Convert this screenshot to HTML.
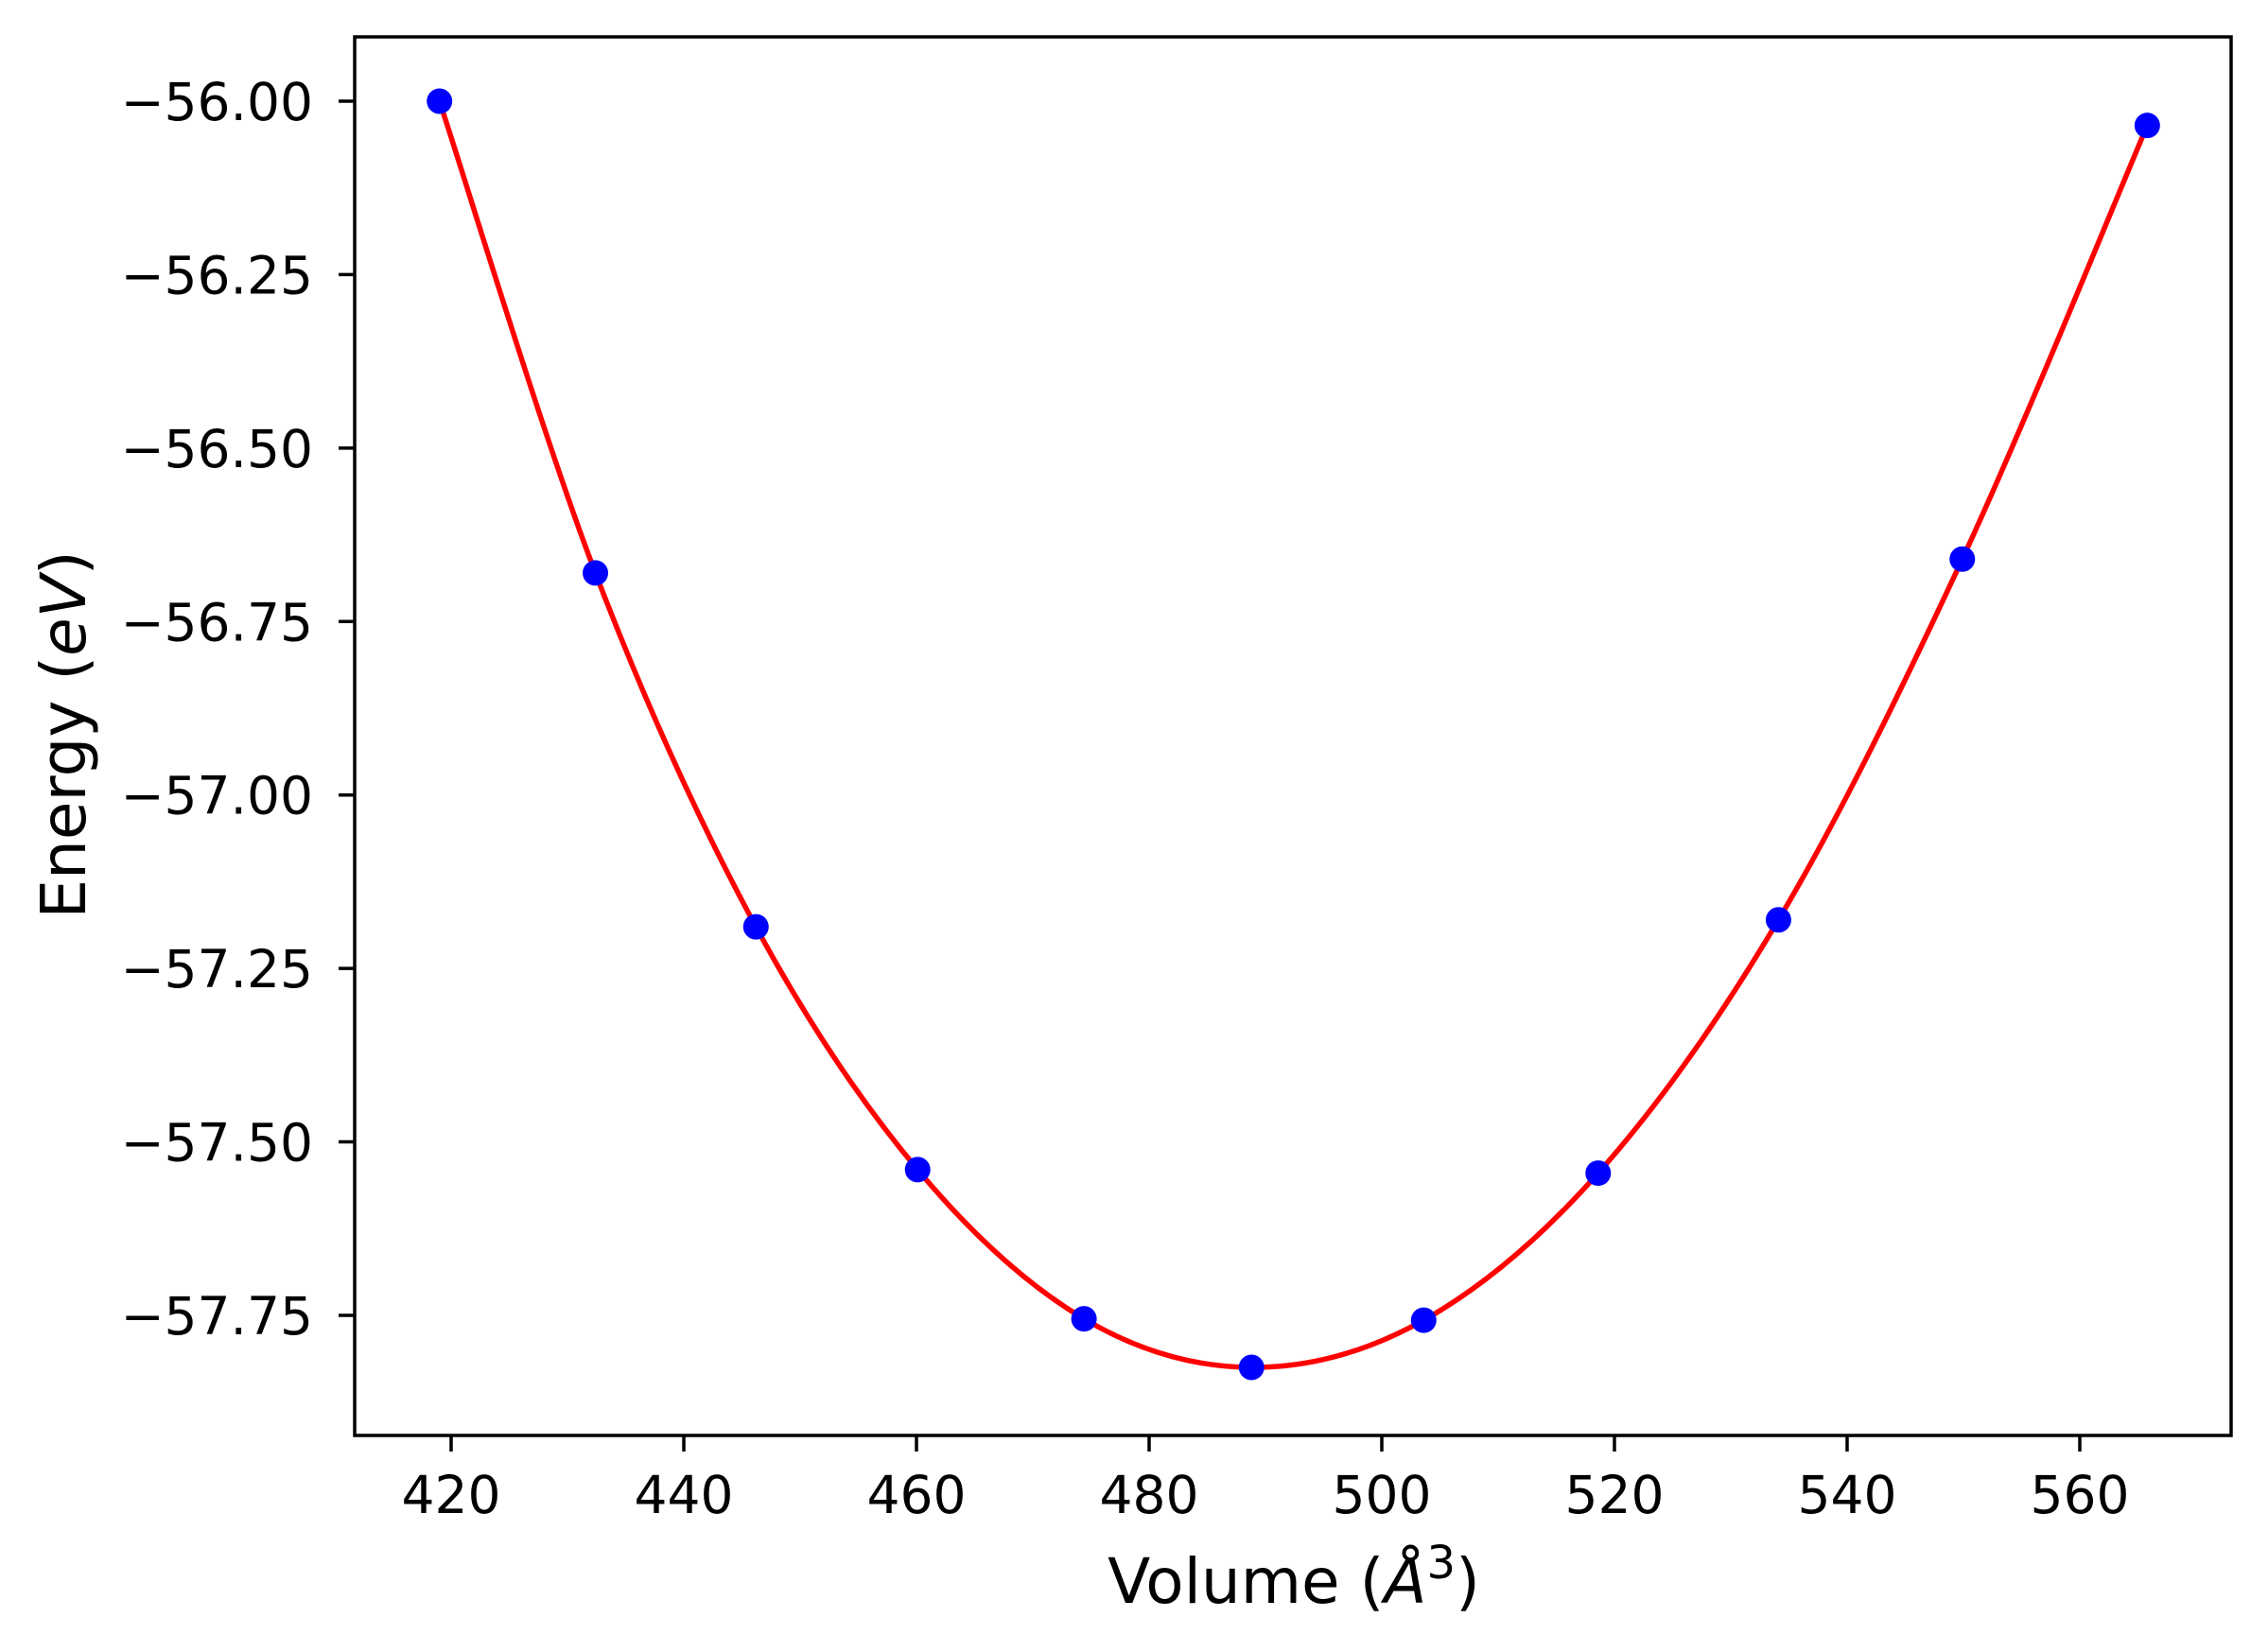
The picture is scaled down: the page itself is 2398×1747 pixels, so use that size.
<!DOCTYPE html>
<html><head><meta charset="utf-8"><style>
html,body{margin:0;padding:0;background:#fff;}
svg{display:block;font-family:"DejaVu Sans","Liberation Sans",sans-serif;}
</style></head><body>
<svg id="chart" width="2398" height="1747" viewBox="0 0 2398 1747" xmlns="http://www.w3.org/2000/svg">
<rect width="2398" height="1747" fill="#fff"/>
<g id="curve"></g>
<g id="points"></g>
<rect x="375" y="39" width="1984" height="1479" fill="none" stroke="#000" stroke-width="3.5"/>
<g id="xticks"></g>
<g id="yticks"></g>
<text x="1368" y="1695" font-size="66" text-anchor="middle">Volume (<tspan font-style="italic">Å</tspan><tspan dy="-26" font-size="48">3</tspan><tspan dy="26">)</tspan></text>
<text transform="translate(90,777) rotate(-90)" font-size="66" text-anchor="middle">Energy (<tspan font-style="italic">eV</tspan>)</text>
</svg>
<script>
const volumes = [419.0, 432.4, 446.2, 460.1, 474.4, 488.8, 503.6, 518.6, 534.1, 549.9, 565.8];
const energies = [-56.00, -56.68, -57.19, -57.54, -57.755, -57.825, -57.757, -57.545, -57.18, -56.66, -56.035];
const xTicks = [420, 440, 460, 480, 500, 520, 540, 560];
const yTicks = [-56.00, -56.25, -56.50, -56.75, -57.00, -57.25, -57.50, -57.75];
const yTickLabels = ["\u221256.00","\u221256.25","\u221256.50","\u221256.75","\u221257.00","\u221257.25","\u221257.50","\u221257.75"];

const NS = "http://www.w3.org/2000/svg";
function xs(v){ return 477 + (v - 420) * 12.3; }
function ys(e){ return 107 + (-56 - e) * 733.7; }

// curve via Catmull-Rom through data points
const curve = document.getElementById('curve');
let d = "";
const P = volumes.map((v,i)=>[xs(v), ys(energies[i])]);
d = "M" + P[0][0] + "," + P[0][1];
for (let i=0;i<P.length-1;i++){
  const p0=P[Math.max(i-1,0)], p1=P[i], p2=P[i+1], p3=P[Math.min(i+2,P.length-1)];
  const c1=[p1[0]+(p2[0]-p0[0])/6, p1[1]+(p2[1]-p0[1])/6];
  const c2=[p2[0]-(p3[0]-p1[0])/6, p2[1]-(p3[1]-p1[1])/6];
  d += " C"+c1[0]+","+c1[1]+" "+c2[0]+","+c2[1]+" "+p2[0]+","+p2[1];
}
const path = document.createElementNS(NS,'path');


path.setAttribute('d', d);
path.setAttribute('fill','none');
path.setAttribute('stroke','#ff0000');
path.setAttribute('stroke-width','5.5');
curve.appendChild(path);

const pts = document.getElementById('points');
volumes.forEach((v,i)=>{
  const c = document.createElementNS(NS,'circle');
  
  
  c.setAttribute('cx', xs(v));
  c.setAttribute('cy', ys(energies[i]));
  c.setAttribute('r', 13.5);
  c.setAttribute('fill', '#0000ff');
  pts.appendChild(c);
});

const xg = document.getElementById('xticks');
xTicks.forEach(t=>{
  const l = document.createElementNS(NS,'line');
  
  
  l.setAttribute('x1', xs(t)); l.setAttribute('x2', xs(t));
  l.setAttribute('y1', 1518); l.setAttribute('y2', 1535);
  l.setAttribute('stroke','#000'); l.setAttribute('stroke-width','3.5');
  xg.appendChild(l);
  const tx = document.createElementNS(NS,'text');
  
  
  tx.setAttribute('x', xs(t)); tx.setAttribute('y', 1600);
  tx.setAttribute('font-size', 55); tx.setAttribute('text-anchor','middle');
  tx.textContent = String(t);
  xg.appendChild(tx);
});

const yg = document.getElementById('yticks');
yTicks.forEach((t,i)=>{
  const l = document.createElementNS(NS,'line');
  
  
  l.setAttribute('x1', 358); l.setAttribute('x2', 375);
  l.setAttribute('y1', ys(t)); l.setAttribute('y2', ys(t));
  l.setAttribute('stroke','#000'); l.setAttribute('stroke-width','3.5');
  yg.appendChild(l);
  const tx = document.createElementNS(NS,'text');
  
  
  tx.setAttribute('x', 331); tx.setAttribute('y', ys(t) + 20);
  tx.setAttribute('font-size', 55); tx.setAttribute('text-anchor','end');
  tx.textContent = yTickLabels[i];
  yg.appendChild(tx);
});
</script>
</body></html>
